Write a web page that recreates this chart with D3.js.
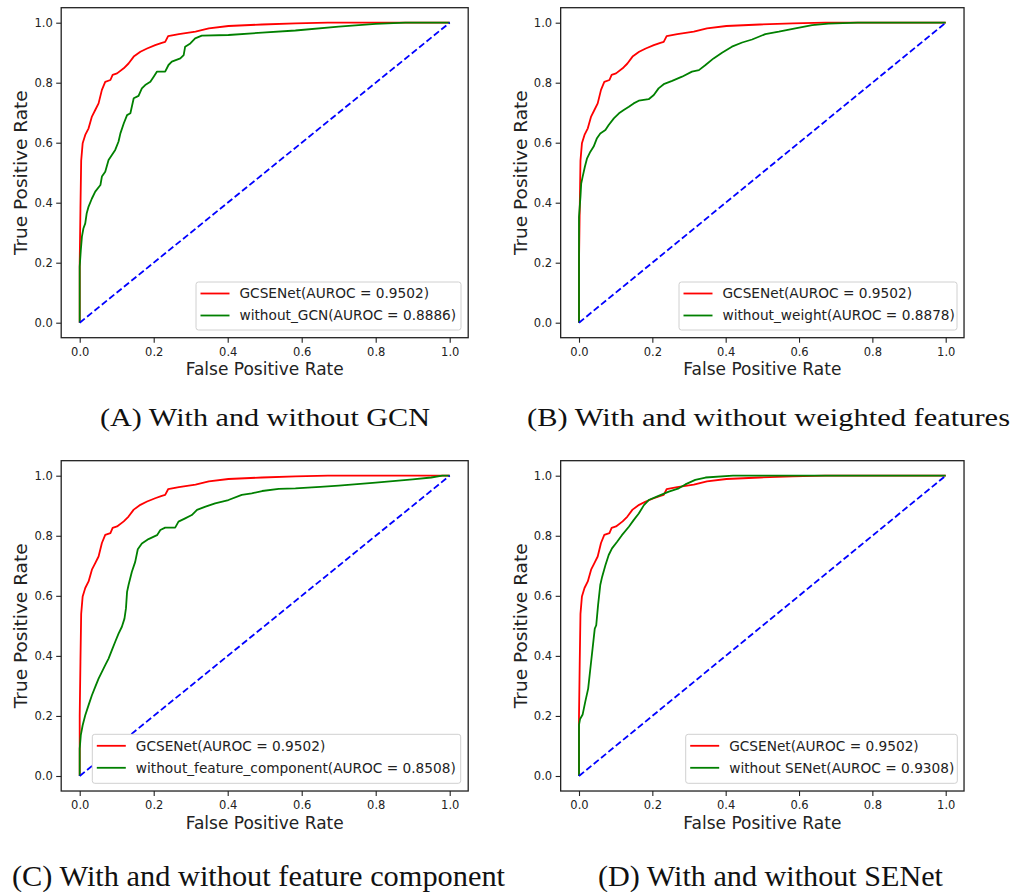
<!DOCTYPE html>
<html>
<head>
<meta charset="utf-8">
<script src="https://cdn.jsdelivr.net/npm/d3@7"></script>
<style>
  html, body { margin: 0; padding: 0; background: #fff; }
  svg { display: block; }
</style>
</head>
<body>
<svg id="fig" width="1027" height="892"></svg>
<script>
// ROC curve of the full model, shared by all four panels: [FPR, TPR]
const gcsenetRoc = [
  [0,0],[0,0.2],[0.002,0.38],[0.004,0.54],[0.008,0.598],[0.015,0.626],[0.024,0.648],
  [0.033,0.687],[0.042,0.709],[0.051,0.731],[0.060,0.776],[0.069,0.803],[0.083,0.809],
  [0.089,0.826],[0.101,0.831],[0.119,0.848],[0.132,0.864],[0.146,0.887],[0.164,0.903],
  [0.182,0.914],[0.204,0.925],[0.222,0.933],[0.231,0.936],[0.239,0.955],[0.268,0.962],
  [0.313,0.970],[0.349,0.981],[0.402,0.989],[0.493,0.994],[0.583,0.998],[0.671,1],[1,1]
];

// Ablation variants
const withoutGcnRoc = [
  [0,0],[0,0.187],[0.003,0.242],[0.006,0.287],[0.010,0.314],[0.015,0.331],[0.019,0.365],
  [0.024,0.387],[0.033,0.414],[0.042,0.437],[0.056,0.459],[0.060,0.487],[0.069,0.503],
  [0.078,0.542],[0.087,0.559],[0.096,0.576],[0.105,0.604],[0.110,0.631],[0.119,0.664],
  [0.128,0.692],[0.137,0.698],[0.146,0.748],[0.159,0.756],[0.168,0.781],[0.177,0.792],
  [0.191,0.803],[0.200,0.820],[0.209,0.837],[0.231,0.837],[0.240,0.859],[0.249,0.870],
  [0.272,0.881],[0.281,0.892],[0.285,0.920],[0.299,0.931],[0.312,0.948],[0.330,0.957],
  [0.402,0.959],[0.493,0.967],[0.583,0.974],[0.7,0.987],[0.8,0.996],[0.88,1],[1,1]
];

const withoutWeightRoc = [
  [0,0],[0,0.353],[0.004,0.42],[0.006,0.464],[0.010,0.487],[0.016,0.520],[0.022,0.548],
  [0.031,0.570],[0.040,0.587],[0.049,0.615],[0.058,0.631],[0.072,0.642],[0.081,0.659],
  [0.095,0.681],[0.109,0.698],[0.122,0.709],[0.136,0.720],[0.149,0.731],[0.163,0.740],
  [0.190,0.745],[0.204,0.759],[0.217,0.781],[0.231,0.795],[0.254,0.806],[0.281,0.820],
  [0.308,0.837],[0.327,0.842],[0.345,0.859],[0.367,0.881],[0.390,0.900],[0.417,0.920],
  [0.445,0.934],[0.472,0.944],[0.508,0.962],[0.545,0.970],[0.590,0.981],[0.636,0.992],
  [0.68,0.997],[0.76,1],[1,1]
];

const withoutFeatureRoc = [
  [0,0],[0,0.091],[0.003,0.136],[0.008,0.169],[0.015,0.202],[0.024,0.236],[0.033,0.269],
  [0.042,0.297],[0.051,0.324],[0.060,0.347],[0.069,0.369],[0.078,0.391],[0.087,0.419],
  [0.096,0.447],[0.105,0.474],[0.114,0.497],[0.121,0.524],[0.125,0.558],[0.128,0.613],
  [0.132,0.636],[0.141,0.680],[0.150,0.713],[0.157,0.755],[0.168,0.774],[0.186,0.789],
  [0.209,0.802],[0.218,0.819],[0.231,0.827],[0.258,0.827],[0.267,0.847],[0.285,0.858],
  [0.303,0.869],[0.317,0.886],[0.340,0.897],[0.366,0.908],[0.402,0.919],[0.438,0.936],
  [0.465,0.941],[0.493,0.949],[0.538,0.956],[0.583,0.958],[0.65,0.963],[0.7,0.967],
  [0.8,0.977],[0.9,0.988],[0.95,0.994],[0.98,1],[1,1]
];

const withoutSenetRoc = [
  [0,0],[0,0.17],[0.003,0.19],[0.010,0.205],[0.017,0.247],[0.025,0.291],[0.031,0.358],
  [0.037,0.424],[0.043,0.491],[0.047,0.502],[0.052,0.569],[0.058,0.636],[0.063,0.663],
  [0.072,0.702],[0.081,0.736],[0.090,0.758],[0.104,0.780],[0.117,0.802],[0.136,0.830],
  [0.149,0.852],[0.163,0.874],[0.177,0.902],[0.190,0.919],[0.217,0.933],[0.245,0.947],
  [0.272,0.958],[0.290,0.971],[0.317,0.986],[0.345,0.994],[0.42,1],[1,1]
];

const chanceLine = [[0,0],[1,1]];

const tickValues = [0, 0.2, 0.4, 0.6, 0.8, 1.0];

const legendLabels = [
  ["GCSENet(AUROC = 0.9502)", "without_GCN(AUROC = 0.8886)"],
  ["GCSENet(AUROC = 0.9502)", "without_weight(AUROC = 0.8878)"],
  ["GCSENet(AUROC = 0.9502)", "without_feature_component(AUROC = 0.8508)"],
  ["GCSENet(AUROC = 0.9502)", "without SENet(AUROC = 0.9308)"]
];

const captions = [
  "(A) With and without GCN",
  "(B) With and without weighted features",
  "(C) With and without feature component",
  "(D) With and without SENet"
];

const variantCurves = [withoutGcnRoc, withoutWeightRoc, withoutFeatureRoc, withoutSenetRoc];

// Panel geometry: pixel positions of FPR 0 and 1, TPR 0 and 1, legend box, caption
const panels = [
  { x0: 79.7, x1: 449.7, y0: 322.7, y1: 22.7, leg: [196, 282, 265, 48], cap: [265, 426, 330, 25] },
  { x0: 579,  x1: 945.7, y0: 322.7, y1: 22.7, leg: [679, 282, 278, 48], cap: [768.5, 426, 483, 25] },
  { x0: 79.7, x1: 449.7, y0: 776,   y1: 475.7, leg: [92.3, 734.3, 368.4, 49], cap: [258.5, 886, 493, 30] },
  { x0: 579,  x1: 945.7, y0: 776,   y1: 475.7, leg: [685.7, 734.3, 271.6, 49], cap: [770.5, 886, 345, 30] }
];

const svg = d3.select("#fig");
svg.append("rect").attr("width", 1027).attr("height", 892).attr("fill", "#fff");

const FONT = "DejaVu Sans, sans-serif";

panels.forEach((p, i) => {
  const x = d3.scaleLinear().domain([0, 1]).range([p.x0, p.x1]);
  const y = d3.scaleLinear().domain([0, 1]).range([p.y0, p.y1]);
  const xl = x(-0.05), xr = x(1.05), yb = y(-0.05), yt = y(1.05);

  const g = svg.append("g");

  const line = d3.line().x(d => x(d[0])).y(d => y(d[1]));

  g.append("path").datum(gcsenetRoc).attr("d", line)
    .attr("fill", "none").attr("stroke", "#ff0000").attr("stroke-width", 1.8)
    .attr("stroke-linejoin", "round");
  g.append("path").datum(variantCurves[i]).attr("d", line)
    .attr("fill", "none").attr("stroke", "#008000").attr("stroke-width", 1.8)
    .attr("stroke-linejoin", "round");
  g.append("path").datum(chanceLine).attr("d", line)
    .attr("fill", "none").attr("stroke", "#0000ff").attr("stroke-width", 1.8)
    .attr("stroke-dasharray", "6.5,3");

  // axes
  const xAxis = d3.axisBottom(x).tickValues(tickValues).tickFormat(d3.format(".1f"))
    .tickSizeInner(5).tickSizeOuter(0).tickPadding(5);
  const yAxis = d3.axisLeft(y).tickValues(tickValues).tickFormat(d3.format(".1f"))
    .tickSizeInner(5).tickSizeOuter(0).tickPadding(3.5);

  const gx = g.append("g").attr("transform", `translate(0,${yb})`).call(xAxis);
  const gy = g.append("g").attr("transform", `translate(${xl},0)`).call(yAxis);
  [gx, gy].forEach(a => {
    a.select(".domain").remove();
    a.selectAll(".tick line").attr("stroke", "#222").attr("stroke-width", 1.1);
    a.selectAll(".tick text").attr("fill", "#222").style("font-family", FONT).style("font-size", "11.5px");
  });

  // frame
  g.append("rect").attr("x", xl).attr("y", yt).attr("width", xr - xl).attr("height", yb - yt)
    .attr("fill", "none").attr("stroke", "#222").attr("stroke-width", 1.3);

  // axis titles
  g.append("text").attr("x", (xl + xr) / 2).attr("y", yb + 37.5)
    .attr("text-anchor", "middle").attr("fill", "#222")
    .style("font-family", FONT).style("font-size", "17px").text("False Positive Rate");
  g.append("text")
    .attr("transform", `translate(${xl - 34},${(yt + yb) / 2}) rotate(-90)`)
    .attr("text-anchor", "middle").attr("fill", "#222")
    .style("font-family", FONT).style("font-size", "18.5px").text("True Positive Rate");

  // legend
  const [lx, ly, lw, lh] = p.leg;
  const lg = g.append("g");
  lg.append("rect").attr("x", lx).attr("y", ly).attr("width", lw).attr("height", lh)
    .attr("rx", 2.5).attr("fill", "#fff").attr("stroke", "#d0d0d0").attr("stroke-width", 1);
  const colors = ["#ff0000", "#008000"];
  legendLabels[i].forEach((lab, k) => {
    const cy = ly + 11.5 + k * 22;
    lg.append("line").attr("x1", lx + 4.5).attr("x2", lx + 33.5).attr("y1", cy).attr("y2", cy)
      .attr("stroke", colors[k]).attr("stroke-width", 1.8);
    lg.append("text").attr("x", lx + 43.5).attr("y", cy).attr("dy", "0.36em")
      .attr("fill", "#222").style("font-family", FONT).style("font-size", "13.7px").text(lab);
  });

  // caption
  const [cx, cyb, cw, cs] = p.cap;
  svg.append("text").attr("x", cx).attr("y", cyb).attr("text-anchor", "middle")
    .attr("textLength", cw).attr("lengthAdjust", "spacingAndGlyphs")
    .attr("fill", "#111").style("font-family", "Liberation Serif, Times New Roman, serif")
    .style("font-size", cs + "px").text(captions[i]);
});
</script>
</body>
</html>
